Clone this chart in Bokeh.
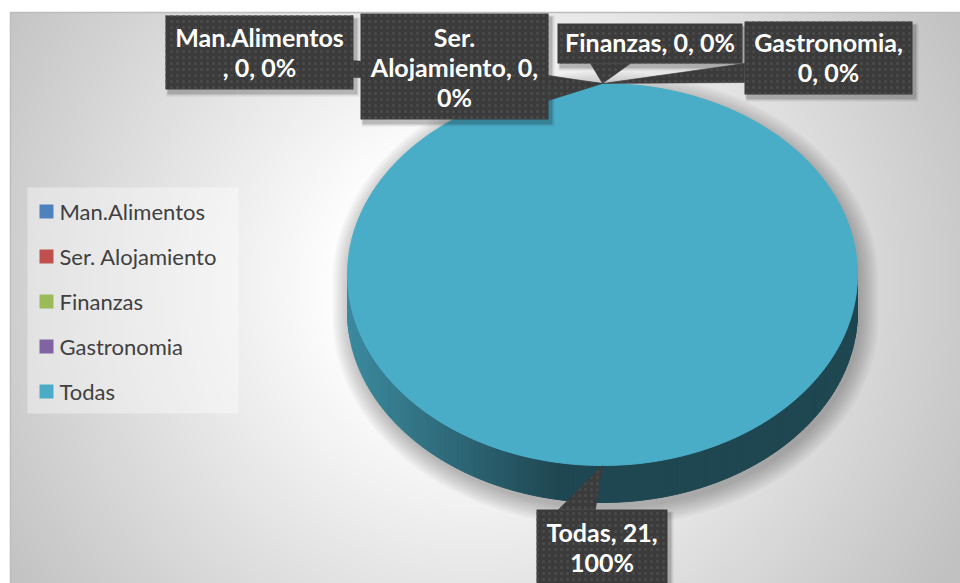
import numpy as np
from bokeh.plotting import figure
from bokeh.models import Range1d
from bokeh.core.properties import value
from bokeh.embed import file_html
from bokeh.resources import INLINE

# ---------------- data ----------------
categories = ["Man.Alimentos", "Ser. Alojamiento", "Finanzas", "Gastronomia", "Todas"]
values = [0, 0, 0, 0, 21]
colors = ["#4f81bd", "#c0504d", "#9bbb59", "#8064a2", "#4bacc6"]

# ---------------- layout (page pixel coords) ----------------
W, H = 960, 583
OFF = 0
def X(px):
    return px - OFF
def Y(py):
    return H + OFF - py

CX, CY, RX, RY, DEPTH = 602, 274, 255, 191, 37
FONT = "Lato"

# label boxes: (x0, y0, x1, y1), first baseline, line breaks, wedge base points
label_boxes = [(165, 15, 353, 89), (360, 13, 548, 119), (557, 23, 742, 63),
               (744, 21, 912, 94), (536, 509, 667, 600)]
label_base = [36, 36, 41, 41, 531]
label_breaks = [[13], [4, 20], [], [12], [10]]
wedge_bases = [[(353, 60), (353, 77)], [(548, 75), (548, 100)],
               [(590, 63), (630, 63)], [(744, 63), (744, 82)],
               [(558, 509), (595, 509)]]
LINE_H = 30

p = figure(width=W, height=H, x_range=Range1d(0, W), y_range=Range1d(0, H),
           output_backend="svg", toolbar_location=None, min_border=0,
           x_axis_type=None, y_axis_type=None)
p.grid.visible = False
p.outline_line_color = None
p.background_fill_color = "white"
p.border_fill_color = "white"

# ---------------- background radial gradient ----------------
step = 2
bx0, by0 = 10, 12
bw, bh = (W + OFF) - bx0, (H + OFF) - by0
nx, ny = bw // step + 1, bh // step + 1
gx = bx0 + np.arange(nx) * step
gy = by0 + np.arange(ny) * step
GX, GY = np.meshgrid(gx, gy)
r = np.hypot(GX - 470, GY - 280)
t = np.clip((r - 130) / 430, 0, 1)
g = (255 - 62 * t).astype(np.uint8)
g = g[::-1, :]
img = np.empty((ny, nx), dtype=np.uint32)
view = img.view(dtype=np.uint8).reshape((ny, nx, 4))
view[:, :, 0] = g
view[:, :, 1] = g
view[:, :, 2] = g
view[:, :, 3] = 255
p.image_rgba(image=[img], x=X(bx0), y=Y(by0 + ny * step), dw=nx * step, dh=ny * step)
p.quad(left=[X(bx0)], right=[X(W + 20)], top=[Y(by0)], bottom=[Y(H + 20)],
       fill_color=None, line_color="#bdbdbd", line_width=1.5)

# ---------------- pie geometry ----------------
total = float(sum(values))
fracs = [v / total for v in values]
starts = np.concatenate([[0.0], np.cumsum(fracs)[:-1]]) * 2 * np.pi
ends = np.cumsum(fracs) * 2 * np.pi

def ell(theta, dy=0.0, drx=0.0, dry=0.0, cx=CX, cy=CY):
    return cx + (RX + drx) * np.sin(theta), cy + dy - (RY + dry) * np.cos(theta)

# soft shadow
for d in range(18, -1, -2):
    th1 = np.linspace(-np.pi / 2, np.pi / 2, 90)
    th2 = np.linspace(np.pi / 2, 3 * np.pi / 2, 90)
    x1, y1 = ell(th1, 0, d, d, CX + 3, CY + 6)
    x2, y2 = ell(th2, DEPTH, d, d, CX + 3, CY + 6)
    xs = np.concatenate([x1, x2])
    ys = np.concatenate([y1, y2])
    p.patch(X(xs), Y(ys), fill_color="black", fill_alpha=0.028, line_color=None)

def side_factor(x):
    f = 0.80 - (0.80 - 0.41) * (x - (CX - RX)) / (560 - (CX - RX))
    return float(np.clip(f, 0.41, 0.80))

def shade(hexc, f):
    hexc = hexc.lstrip("#")
    rgb = [int(hexc[i:i + 2], 16) for i in (0, 2, 4)]
    return "#%02x%02x%02x" % tuple(int(round(c * f)) for c in rgb)

# sides
for i, (a0, a1) in enumerate(zip(starts, ends)):
    lo, hi = max(a0, np.pi / 2), min(a1, 3 * np.pi / 2)
    if hi <= lo:
        continue
    n = max(2, int(160 * (hi - lo) / np.pi))
    th = np.linspace(lo, hi, n + 1)
    xs_l, ys_l, cols = [], [], []
    for k in range(n):
        ta, tb = th[k], th[k + 1]
        xa, ya = ell(ta)
        xb, yb = ell(tb)
        xs_l.append(list(X(np.array([xa, xb, xb, xa]))))
        ys_l.append(list(Y(np.array([ya, yb, yb + DEPTH, ya + DEPTH]))))
        cols.append(shade(colors[i], side_factor((xa + xb) / 2)))
    p.patches(xs_l, ys_l, fill_color=cols, line_color=cols, line_width=1)

# tops
for i, (a0, a1) in enumerate(zip(starts, ends)):
    if a1 - a0 <= 0:
        continue
    th = np.linspace(a0, a1, 240)
    xs, ys = ell(th)
    if a1 - a0 < 2 * np.pi - 1e-9:
        xs = np.concatenate([[CX], xs])
        ys = np.concatenate([[CY], ys])
    p.patch(X(xs), Y(ys), fill_color="#4aadc7", line_color="#4aadc7", line_width=1)

# ---------------- data labels ----------------
def wrap(s, breaks):
    parts, prev = [], 0
    for b in breaks + [len(s)]:
        parts.append(s[prev:b].strip())
        prev = b
    return parts

BOX = "#3b3b3b"
HATCH = dict(hatch_pattern="dot", hatch_color="#4b4b4b", hatch_scale=6, hatch_weight=0.8)
for i, cat in enumerate(categories):
    x0, y0, x1, y1 = label_boxes[i]
    mid = (starts[i] + ends[i]) / 2
    tx, ty = ell(mid)
    (bxa, bya), (bxb, byb) = wedge_bases[i]
    p.quad(left=[X(x0 + 2)], right=[X(x1 + 4)], top=[Y(y0 + 3)], bottom=[Y(y1 + 5)],
           fill_color="black", fill_alpha=0.18, line_color=None)
    p.quad(left=[X(x0 + 1)], right=[X(x1 + 6)], top=[Y(y0 + 2)], bottom=[Y(y1 + 7)],
           fill_color="black", fill_alpha=0.08, line_color=None)
    p.patch(X(np.array([bxa, tx, bxb])), Y(np.array([bya, ty, byb])),
            fill_color=BOX, line_color=BOX, line_width=0.5, **HATCH)

for i, cat in enumerate(categories):
    pct = int(round(100 * values[i] / total))
    text = f"{cat}, {values[i]}, {pct}%"
    lines = wrap(text, label_breaks[i])
    x0, y0, x1, y1 = label_boxes[i]
    p.quad(left=[X(x0)], right=[X(x1)], top=[Y(y0)], bottom=[Y(y1)],
           fill_color=BOX, line_color=None, **HATCH)
    cxl = (x0 + x1) / 2
    p.text(x=[X(cxl)] * len(lines),
           y=[Y(label_base[i] + k * LINE_H) for k in range(len(lines))],
           text=lines, text_font=value(FONT), text_font_style="bold",
           text_font_size="25px", text_color="white",
           text_align="center", text_baseline="alphabetic")

# ---------------- legend ----------------
LG = (27, 187, 238, 413)
p.quad(left=[X(LG[0])], right=[X(LG[2])], top=[Y(LG[1])], bottom=[Y(LG[3])],
       fill_color="white", fill_alpha=0.38, line_color=None)
rows = [211 + 45 * k for k in range(len(categories))]
p.rect(x=[X(46)] * len(categories), y=[Y(r_) for r_ in rows], width=14, height=14,
       fill_color=colors, line_color=None)
p.text(x=[X(59)] * len(categories), y=[Y(r_) for r_ in rows], text=categories,
       text_font=value(FONT), text_font_size="22px", text_color="#404040",
       text_align="left", text_baseline="middle")

open("out.html", "w").write(file_html(p, INLINE))
